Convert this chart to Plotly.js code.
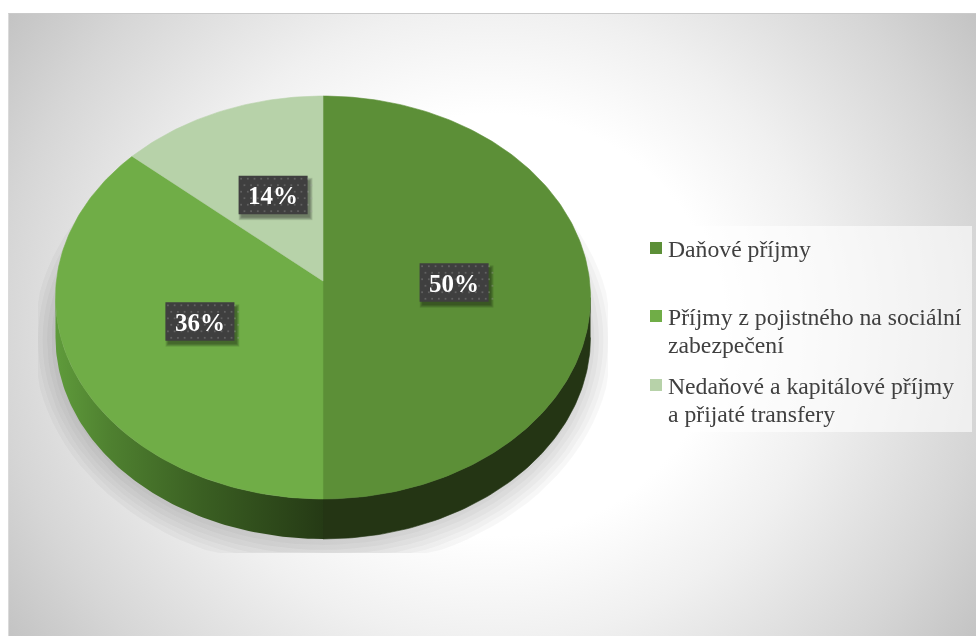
<!DOCTYPE html>
<html>
<head>
<meta charset="utf-8">
<script src="https://cdn.plot.ly/plotly-3.0.1.min.js"></script>
<style>
html,body{margin:0;padding:0;background:#fff;overflow:hidden}
#wrap{position:relative;width:976px;height:636px}
#panel{position:absolute;left:8px;top:13px;width:968px;height:623px;box-sizing:border-box;border-top:1px solid #cacaca;border-left:1px solid #dadada;
  background:radial-gradient(ellipse 610px 570px at 50% 50%,#fff 0,#fff 37%,#f0f0f0 55.5%,#d6d6d6 80.7%,#bfbfbf 100%)}
#chart{position:absolute;left:0;top:0;width:976px;height:636px;filter:blur(0.4px)}
</style>
</head>
<body>
<div id="wrap"><div id="panel"></div><div id="chart"></div></div>
<script>
const categories = ['Daňové příjmy','Příjmy z pojistného na sociální<br>zabezpečení','Nedaňové a kapitálové příjmy<br>a přijaté transfery'];
const shares = [50,36.4,13.6];
const topColors = ['#5c8f37','#70ad47','#b7d2a9'];

// the axes run in page pixels, the tilted disc is projected into them
const cx = 323, cy = 281, kx = 266.6, ky = 200.1, tilt = 0.0819, depth = 40;
const labelR = 0.49, labelNudgeX = [0.5,0,0.5], labelNudgeY = [1.5,-1.5,-3];
const labelW = 69, labelH = 38.5;
const legendX = 656, legendTextX = 666, legendLineGap = 28;
const legendY = [248,316,385];

function rim(deg, r = 1){
  const t = deg*Math.PI/180;
  const d = 1 + tilt*Math.cos(t);
  return [cx + r*kx*Math.sin(t)/d, cy - r*ky*Math.cos(t)/d];
}
function arc(from, to){
  const pts = [];
  const n = Math.max(2, Math.ceil(Math.abs(to-from)));
  for(let i=0;i<=n;i++) pts.push(rim(from + (to-from)*i/n));
  return pts;
}
function poly(pts, color, extra){
  return Object.assign({
    x:pts.map(p=>p[0]), y:pts.map(p=>p[1]), type:'scatter', mode:'lines', fill:'toself',
    fillcolor:color, line:{color:color,width:0.6}, hoverinfo:'skip', showlegend:false
  }, extra||{});
}
function rect(x0,y0,x1,y1,color){
  return poly([[x0,y0],[x1,y0],[x1,y1],[x0,y1],[x0,y0]], color, {line:{width:0,color:color}});
}

const traces = [];

// soft shadow under the disc, cut off at its box like in the original
for(let i=0;i<12;i++){
  const pts = [];
  for(let a=0;a<=360;a+=3){
    const t = a*Math.PI/180;
    const x = 323 + (240+i*4.5)*Math.sin(t);
    const y = 340 - (175+i*5)*Math.cos(t);
    pts.push([Math.min(608,Math.max(38,x)), Math.min(553,y)]);
  }
  traces.push(poly(pts,'rgba(0,0,0,0.03)',{line:{width:0,color:'rgba(0,0,0,0)'}}));
}

// side wall: right half flat and dark, left half shaded
const rightExtreme = 94.7, leftExtreme = 265.3;
const wallR = arc(rightExtreme,180);
traces.push(poly(wallR.concat(wallR.slice().reverse().map(p=>[p[0],p[1]+depth])),'#243514'));
const wallL = arc(180,leftExtreme);
const wallLpts = wallL.concat(wallL.slice().reverse().map(p=>[p[0],p[1]+depth]));
traces.push(poly(wallLpts,'#456f2a',{
  fillgradient:{type:'horizontal',start:55,stop:323,colorscale:[[0,'#5f9b3b'],[0.2,'#4f8130'],[0.55,'#3a5f22'],[1,'#253a15']]},
  line:{width:0,color:'#456f2a'}
}));

// top face
let from = 0;
const mids = [];
shares.forEach((v,i)=>{
  const to = from + v*3.6;
  traces.push(poly([[cx,cy]].concat(arc(from,to),[[cx,cy]]),topColors[i]));
  mids.push((from+to)/2);
  from = to;
});

// data labels: shadow, dark box, dotted texture
const annotations = [];
const dotX = [], dotY = [];
shares.forEach((v,i)=>{
  const p = rim(mids[i],labelR);
  const lx = p[0] + labelNudgeX[i], ly = p[1] + labelNudgeY[i];
  const x0 = lx-labelW/2, x1 = lx+labelW/2, y0 = ly-labelH/2, y1 = ly+labelH/2;
  for(let s=6;s>=0;s--){
    traces.push(rect(x0+3-s/2,y0+5-s/2,x1+2+s/2,y1+3+s/2,'rgba(15,20,10,0.075)'));
  }
  traces.push(rect(x0,y0,x1,y1,'#3f3f3f'));
  for(let r=0;r<6;r++){
    for(let c=0;c<11;c++){
      dotX.push(x0+2.5+c*6.7+(r%2?3.3:0));
      dotY.push(y0+3+r*6.5);
    }
  }
  annotations.push({x:lx,y:ly+0.5,xref:'x',yref:'y',text:'<b>'+Math.round(v)+'%</b>',showarrow:false,
    font:{family:'Liberation Serif',size:25,color:'#ffffff'}});
});
traces.push({x:dotX,y:dotY,type:'scatter',mode:'markers',marker:{symbol:'square',size:1.8,color:'rgba(160,160,160,0.35)'},hoverinfo:'skip',showlegend:false});

// legend keys and texts
traces.push({x:legendY.map(()=>legendX),y:legendY,type:'scatter',mode:'markers',
  marker:{symbol:'square',size:12,color:topColors},hoverinfo:'skip',showlegend:false});
categories.forEach((c,i)=>{
  c.split('<br>').forEach((line,j)=>{
    annotations.push({x:legendTextX,y:legendY[i]+j*legendLineGap+1,xref:'x',yref:'y',xanchor:'left',yanchor:'middle',align:'left',
      text:line,showarrow:false,font:{family:'Liberation Serif',size:23.7,color:'#404040'}});
  });
});

const layout = {
  width:976, height:636,
  margin:{l:0,r:0,t:0,b:0},
  paper_bgcolor:'rgba(0,0,0,0)', plot_bgcolor:'rgba(0,0,0,0)',
  xaxis:{range:[0,976],visible:false,fixedrange:true},
  yaxis:{range:[636,0],visible:false,fixedrange:true},
  showlegend:false,
  shapes:[{type:'rect',layer:'below',xref:'x',yref:'y',x0:638,x1:972,y0:226,y1:432,fillcolor:'rgba(255,255,255,0.6)',line:{width:0}}],
  annotations:annotations
};

Plotly.newPlot('chart',traces,layout,{displayModeBar:false,staticPlot:true});
</script>
</body>
</html>
